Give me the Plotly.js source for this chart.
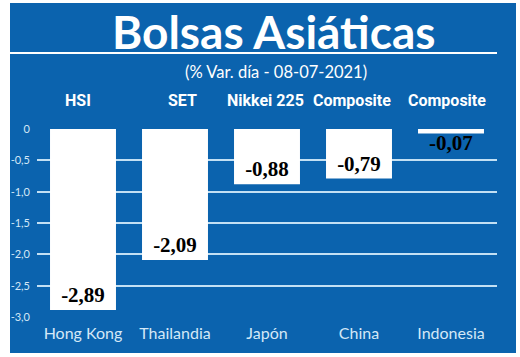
<!DOCTYPE html>
<html>
<head>
<meta charset="utf-8">
<script src="https://cdn.plot.ly/plotly-3.0.1.min.js"></script>
<style>html,body{margin:0;padding:0;background:#fff;}#chart{width:520px;height:357px;}</style>
</head>
<body>
<div id="chart"></div>
<script>
const countries = ["Hong Kong", "Thailandia", "Japón", "China", "Indonesia"];
const indices = ["HSI", "SET", "Nikkei 225", "Composite", "Composite"];
const values = [-2.89, -2.09, -0.88, -0.79, -0.07];
const valueLabels = ["-2,89", "-2,09", "-0,88", "-0,79", "-0,07"];
const yTickVals = [0, -0.5, -1.0, -1.5, -2.0, -2.5, -3.0];
const yTickText = ["0", "-0,5", "-1,0", "-1,5", "-2,0", "-2,5", "-3,0"];
const titleText = "Bolsas Asiáticas";
const subtitleText = "(% Var. día - 08-07-2021)";

const W = 520, H = 357;
const mL = 37, mR = 23, mT = 129, mB = 40;
const pw = W - mL - mR, ph = H - mT - mB;
const px = x => (x - mL) / pw;
const py = y => (H - mB - y) / ph;

const blue = "#0b63ae";
const light = "#d4e8f7";

const headerX = [78, 182, 265, 352, 447];
const headerAnn = indices.map((t, i) => ({
  text: t, xref: "paper", yref: "paper", x: px(headerX[i]), y: py(101),
  xanchor: "center", yanchor: "middle", showarrow: false,
  font: {family: "Roboto, sans-serif", size: 16, color: "#ffffff", weight: 700}
}));

const labelFont = {family: "Liberation Serif, serif", size: 21, color: "#000000", weight: 700};
// labels that fit inside the bar are drawn by the trace; the tiny last bar gets its label just under it
const fitsInside = values.map(v => Math.abs(v) > 0.3);
const traceText = valueLabels.map((t, i) => fitsInside[i] ? t : "");
const outsideAnn = valueLabels.map((t, i) => fitsInside[i] ? null : ({
  text: t, xref: "x", yref: "y", x: countries[i], y: values[i],
  xanchor: "center", yanchor: "top", yshift: 4, showarrow: false,
  font: labelFont
})).filter(a => a);

const trace = {
  type: "bar",
  x: countries,
  y: values,
  text: traceText,
  textposition: "inside",
  insidetextanchor: "end",
  textfont: labelFont,
  insidetextfont: labelFont,
  constraintext: "none",
  cliponaxis: false,
  marker: {color: "#ffffff", line: {width: 0}},
  hoverinfo: "skip"
};

const layout = {
  width: W, height: H,
  margin: {l: mL, r: mR, t: mT, b: mB, pad: 0},
  paper_bgcolor: "#ffffff",
  plot_bgcolor: "rgba(0,0,0,0)",
  showlegend: false,
  bargap: 0.283,
  separators: ",.",
  xaxis: {
    type: "category",
    range: [-0.5, 4.5],
    showgrid: false, zeroline: false, showline: false, ticks: "",
    tickfont: {family: "Lato, Open Sans, sans-serif", size: 16, color: light},
    ticklabelstandoff: 5,
    fixedrange: true
  },
  yaxis: {
    range: [-3.0, 0.0],
    tickvals: yTickVals, ticktext: yTickText,
    showgrid: true, gridcolor: "#c3e0f4", gridwidth: 2,
    zeroline: false, showline: false, ticks: "",
    tickfont: {family: "Lato, Open Sans, sans-serif", size: 11, color: light},
    ticklabelstandoff: 6,
    fixedrange: true
  },
  shapes: [
    {type: "rect", xref: "paper", yref: "paper", layer: "below",
     x0: px(10), x1: px(516), y0: py(353), y1: py(3),
     fillcolor: blue, line: {width: 0}},
    {type: "line", xref: "paper", yref: "paper", layer: "above",
     x0: px(10), x1: px(497), y0: py(53), y1: py(53),
     line: {color: "#ffffff", width: 2}}
  ],
  annotations: [
    {text: titleText, xref: "paper", yref: "paper", x: px(273), y: py(31),
     xanchor: "center", yanchor: "middle", showarrow: false,
     font: {family: "Lato, Open Sans, sans-serif", size: 46, color: "#ffffff", weight: 700}},
    {text: subtitleText, xref: "paper", yref: "paper", x: px(276), y: py(72),
     xanchor: "center", yanchor: "middle", showarrow: false,
     font: {family: "Lato, Open Sans, sans-serif", size: 16.5, color: "#ffffff"}}
  ].concat(headerAnn, outsideAnn)
};

Plotly.newPlot("chart", [trace], layout, {staticPlot: true, displayModeBar: false});
</script>
</body>
</html>
